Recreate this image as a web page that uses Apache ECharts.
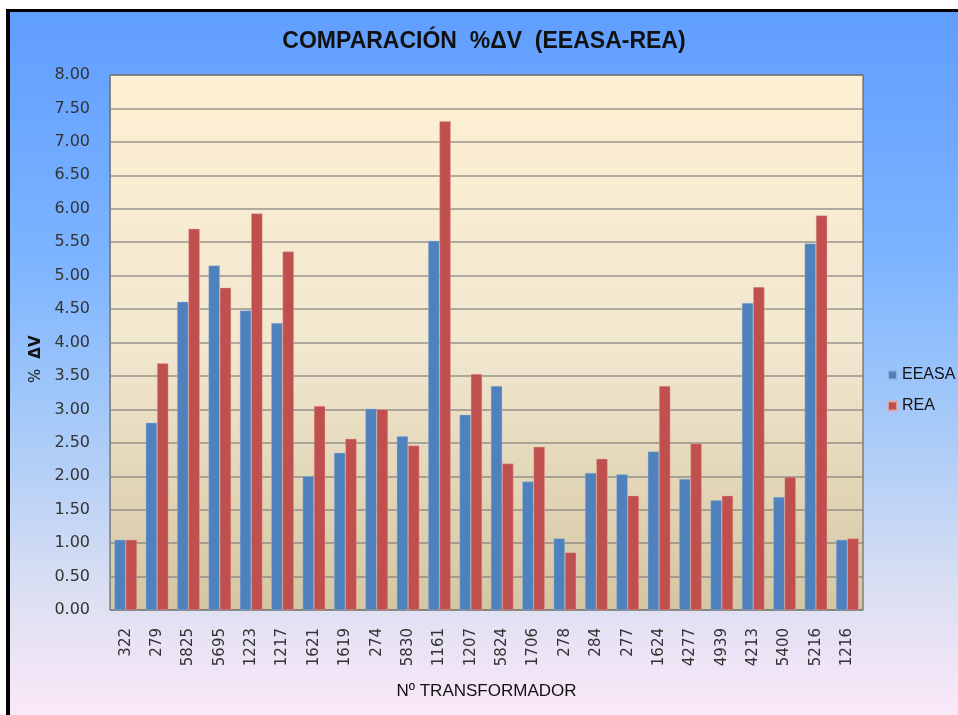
<!DOCTYPE html>
<html>
<head>
<meta charset="utf-8">
<script src="https://cdn.jsdelivr.net/npm/echarts@6/dist/echarts.min.js"></script>
<style>
    html, body { margin: 0; padding: 0; background: #fff; }
    #wrap {
        position: absolute; left: 6px; top: 9px;
        width: 948px; height: 703px;
        border-left: 4px solid #000; border-top: 3px solid #000;
        background: linear-gradient(to bottom, #609eff 0%, #7cb4ff 35%, #a9cbf8 60%, #dadff2 82%, #fbe8f8 100%);
    }
    #chart { width: 948px; height: 703px; }
</style>
</head>
<body>
<div id="wrap"><div id="chart"></div></div>
<script>
const transformadores = ['322', '279', '5825', '5695', '1223', '1217', '1621', '1619', '274', '5830', '1161', '1207',
    '5824', '1706', '278', '284', '277', '1624', '4277', '4939', '4213', '5400', '5216', '1216'];
const eeasa = [1.05, 2.80, 4.61, 5.15, 4.48, 4.29, 2.00, 2.35, 3.01, 2.60, 5.52, 2.92,
    3.35, 1.92, 1.07, 2.05, 2.03, 2.37, 1.96, 1.64, 4.59, 1.69, 5.48, 1.05];
const rea = [1.05, 3.69, 5.70, 4.82, 5.93, 5.36, 3.05, 2.56, 3.00, 2.46, 7.31, 3.53,
    2.19, 2.44, 0.86, 2.26, 1.71, 3.35, 2.49, 1.71, 4.83, 1.99, 5.90, 1.07];

const myChart = echarts.init(document.getElementById('chart'));

const labelFont = 'DejaVu Sans';

const option = {
    backgroundColor: 'transparent',
    animation: false,
    title: {
        text: 'COMPARACIÓN  %ΔV  (EEASA-REA)',
        left: 'center',
        top: 13,
        textStyle: {
            fontFamily: 'Liberation Sans',
            fontWeight: 'bold',
            fontSize: 23,
            color: '#111'
        }
    },
    legend: {
        orient: 'vertical',
        left: 872,
        top: 350,
        icon: 'rect',
        itemWidth: 9,
        itemHeight: 9,
        itemGap: 15,
        textStyle: { fontFamily: 'Liberation Sans', fontSize: 16, color: '#111' },
        data: ['EEASA', 'REA']
    },
    grid: {
        left: 100,
        right: 95,
        top: 63,
        bottom: 105,
        show: true,
        borderColor: '#555',
        borderWidth: 1,
        backgroundColor: new echarts.graphic.LinearGradient(0, 0, 0, 1, [
            { offset: 0, color: '#fdefd2' },
            { offset: 0.5, color: '#f2e8d0' },
            { offset: 1, color: '#d4c6a2' }
        ])
    },
    xAxis: {
        type: 'category',
        data: transformadores,
        name: 'Nº TRANSFORMADOR',
        nameLocation: 'middle',
        nameGap: 73,
        nameTextStyle: { fontFamily: 'Liberation Sans', fontSize: 17, color: '#111' },
        axisLine: { lineStyle: { color: '#888' } },
        axisTick: { show: false },
        axisLabel: {
            rotate: 90,
            margin: 18,
            fontFamily: labelFont,
            fontSize: 15,
            color: '#333'
        }
    },
    yAxis: {
        type: 'value',
        min: 0,
        max: 8,
        interval: 0.5,
        name: '{p|%}   {d|ΔV}{p|       }',
        nameLocation: 'middle',
        nameGap: 66,
        nameTextStyle: {
            rich: {
                p: { fontFamily: labelFont, fontSize: 15, color: '#222' },
                d: { fontFamily: labelFont, fontSize: 15, fontWeight: 'bold', color: '#111' }
            }
        },
        axisLine: { show: true, lineStyle: { color: '#888' } },
        axisTick: { show: false },
        axisLabel: {
            margin: 20,
            fontFamily: labelFont,
            fontSize: 16,
            color: '#333',
            formatter: v => v.toFixed(2)
        },
        splitLine: { lineStyle: { color: 'rgba(120,120,120,0.75)', width: 1.5 } }
    },
    series: [
        {
            name: 'EEASA',
            type: 'bar',
            data: eeasa,
            barGap: '0%',
            barCategoryGap: '28%',
            itemStyle: { color: '#4f81bd', borderColor: 'rgba(160,190,225,0.8)', borderWidth: 0.5 }
        },
        {
            name: 'REA',
            type: 'bar',
            data: rea,
            barGap: '0%',
            barCategoryGap: '28%',
            itemStyle: { color: '#c0504d', borderColor: 'rgba(235,170,165,0.8)', borderWidth: 0.5 }
        }
    ]
};

myChart.setOption(option);
</script>
</body>
</html>
